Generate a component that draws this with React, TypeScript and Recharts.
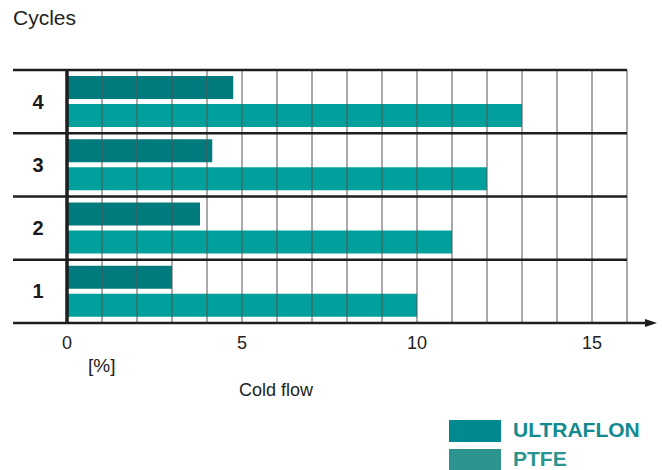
import React from 'react';
import {
  BarChart, Bar, XAxis, YAxis, ReferenceLine,
} from 'recharts';

const cycles = ['4', '3', '2', '1'];
const ultraflon = [4.75, 4.15, 3.8, 3.0];
const ptfe = [13.0, 12.0, 11.0, 10.0];
const xTicks = [0, 5, 10, 15];
const gridValues = [1, 2, 3, 4, 5, 6, 7, 8, 9, 10, 11, 12, 13, 14, 15, 16];

const data = cycles.map((c, i) => ({ cycle: c, ultraflon: ultraflon[i], ptfe: ptfe[i] }));

const DARK = '#027b7f';
const LIGHT = '#02a09c';
const LINE = '#1e1e1e';
const FONT = 'Liberation Sans, Arial, sans-serif';

const YTick = (props: any) => {
  const { x, y, payload } = props;
  return (
    <text x={x - 21} y={y} dy={7} textAnchor="middle" fontSize={20} fontWeight="bold" fill="#1a1a1a" fontFamily={FONT}>
      {payload.value}
    </text>
  );
};

export default function App() {
  return (
    <div style={{ position: 'absolute', left: 0, top: 0, width: 662, height: 470, fontFamily: FONT, background: '#fff' }}>
      <div style={{ position: 'absolute', left: 13, top: 6, fontSize: 21, color: '#222' }}>Cycles</div>
      <BarChart
        width={662}
        height={470}
        data={data}
        layout="vertical"
        margin={{ top: 70, right: 35, bottom: 117, left: 13 }}
        barCategoryGap={6}
        barGap={5}
      >
        <XAxis
          type="number"
          domain={[0, 16]}
          ticks={xTicks}
          axisLine={false}
          tickLine={false}
          height={30}
          tick={{ fill: '#222', fontSize: 18, fontFamily: FONT }}
          tickMargin={7}
        />
        <YAxis
          type="category"
          dataKey="cycle"
          width={54}
          axisLine={false}
          tickLine={false}
          tick={<YTick />}
        />
        <Bar dataKey="ultraflon" fill={DARK} isAnimationActive={false} />
        <Bar dataKey="ptfe" fill={LIGHT} isAnimationActive={false} />
        {gridValues.map((v) => (
          <ReferenceLine key={'g' + v} x={v} stroke="#555" strokeWidth={1} />
        ))}
        {cycles.map((c) => (
          <ReferenceLine
            key={'s' + c}
            segment={[{ x: -1.543, y: c }, { x: 16, y: c }]}
            position="start"
            stroke={LINE}
            strokeWidth={2.5}
            ifOverflow="visible"
          />
        ))}
        <ReferenceLine
          segment={[{ x: -1.543, y: '1' }, { x: 16.7, y: '1' }]}
          position="end"
          stroke={LINE}
          strokeWidth={2.5}
          ifOverflow="visible"
        />
        <ReferenceLine x={0} stroke={LINE} strokeWidth={3.5} />
      </BarChart>
      <svg style={{ position: 'absolute', left: 0, top: 0 }} width={662} height={470} pointerEvents="none">
        <polygon points="657,323 645,319 645,327" fill={LINE} />
      </svg>
      <div style={{ position: 'absolute', left: 88, top: 355, fontSize: 19, color: '#222' }}>[%]</div>
      <div style={{ position: 'absolute', left: 239, top: 380, fontSize: 18, color: '#222' }}>Cold flow</div>
      <div style={{ position: 'absolute', left: 449, top: 420, width: 52, height: 22, background: '#008a90' }} />
      <div style={{ position: 'absolute', left: 449, top: 449, width: 52, height: 21, background: '#2e9490' }} />
      <div style={{ position: 'absolute', left: 513, top: 418, fontSize: 21, fontWeight: 'bold', color: '#138a8f' }}>ULTRAFLON</div>
      <div style={{ position: 'absolute', left: 513, top: 447, fontSize: 21, fontWeight: 'bold', color: '#2a9490' }}>PTFE</div>
    </div>
  );
}
